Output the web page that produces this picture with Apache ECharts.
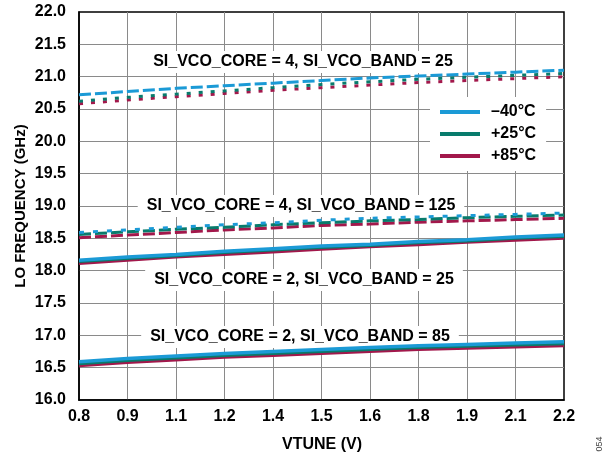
<!DOCTYPE html>
<html>
<head>
<meta charset="utf-8">
<script src="https://cdn.jsdelivr.net/npm/echarts@6/dist/echarts.min.js"></script>
<style>
html,body{margin:0;padding:0;background:#fff;}
#chart{width:614px;height:458px;}
</style>
</head>
<body>
<div id="chart"></div>
<script>
// ---- data ----
const vtune = [0.8, 0.94, 1.08, 1.22, 1.36, 1.5, 1.64, 1.78, 1.92, 2.06, 2.2];
const xTickLabels = ['0.8','0.9','1.1','1.2','1.4','1.5','1.6','1.8','1.9','2.1','2.2'];
const yTickLabels = ['16.0','16.5','17.0','17.5','18.0','18.5','19.0','19.5','20.0','20.5','21.0','21.5','22.0'];
const temps = ['–40°C', '+25°C', '+85°C'];

// SI_VCO_CORE = 4, SI_VCO_BAND = 25
const c4b25_m40 = [20.72, 20.77, 20.82, 20.86, 20.90, 20.94, 20.98, 21.01, 21.04, 21.07, 21.10];
const c4b25_p25 = [20.62, 20.68, 20.73, 20.78, 20.83, 20.88, 20.92, 20.96, 20.99, 21.02, 21.05];
const c4b25_p85 = [20.58, 20.64, 20.69, 20.74, 20.79, 20.83, 20.87, 20.91, 20.94, 20.97, 21.00];
// SI_VCO_CORE = 4, SI_VCO_BAND = 125
const c4b125_m40 = [18.59, 18.63, 18.67, 18.71, 18.74, 18.78, 18.81, 18.83, 18.85, 18.87, 18.89];
const c4b125_p25 = [18.56, 18.60, 18.64, 18.67, 18.71, 18.74, 18.77, 18.79, 18.82, 18.84, 18.86];
const c4b125_p85 = [18.51, 18.55, 18.59, 18.63, 18.66, 18.70, 18.72, 18.75, 18.77, 18.79, 18.81];
// SI_VCO_CORE = 2, SI_VCO_BAND = 25
const c2b25_m40 = [18.16, 18.21, 18.25, 18.30, 18.34, 18.38, 18.41, 18.45, 18.48, 18.52, 18.55];
const c2b25_p25 = [18.14, 18.19, 18.23, 18.28, 18.32, 18.36, 18.39, 18.43, 18.46, 18.50, 18.53];
const c2b25_p85 = [18.11, 18.16, 18.21, 18.25, 18.29, 18.33, 18.37, 18.40, 18.44, 18.47, 18.50];
// SI_VCO_CORE = 2, SI_VCO_BAND = 85
const c2b85_m40 = [16.59, 16.64, 16.68, 16.72, 16.75, 16.78, 16.81, 16.84, 16.86, 16.88, 16.90];
const c2b85_p25 = [16.56, 16.61, 16.65, 16.69, 16.72, 16.75, 16.78, 16.81, 16.83, 16.85, 16.87];
const c2b85_p85 = [16.53, 16.58, 16.62, 16.66, 16.69, 16.72, 16.75, 16.78, 16.80, 16.82, 16.84];

const annotations = [
  'SI_VCO_CORE = 4, SI_VCO_BAND = 25',
  'SI_VCO_CORE = 4, SI_VCO_BAND = 125',
  'SI_VCO_CORE = 2, SI_VCO_BAND = 25',
  'SI_VCO_CORE = 2, SI_VCO_BAND = 85'
];

// ---- styling ----
const colors = { '–40°C': '#1b9ad6', '+25°C': '#087b6c', '+85°C': '#a2184b' };
const FONT = '"Liberation Sans", Arial, sans-serif';

function mk(name, vals, dash, width) {
  return {
    type: 'line',
    name: name,
    data: vtune.map((x, i) => [x, vals[i]]),
    symbol: 'none',
    showSymbol: false,
    silent: true,
    z: 3,
    lineStyle: { color: colors[name], width: width || 3, type: dash || 'solid', cap: 'butt' },
    itemStyle: { color: colors[name] }
  };
}

const series = [
  mk('+85°C', c2b25_p85, 'solid', 3),
  mk('+25°C', c2b25_p25, 'solid', 3),
  mk('–40°C', c2b25_m40, 'solid', 3.5),
  mk('+85°C', c2b85_p85, 'solid', 3),
  mk('+25°C', c2b85_p25, 'solid', 3),
  mk('–40°C', c2b85_m40, 'solid', 3.5),
  mk('+85°C', c4b125_p85, [12, 4], 3),
  mk('+25°C', c4b125_p25, [12, 4], 3),
  mk('–40°C', c4b125_m40, [5, 9], 3),
  mk('+85°C', c4b25_p85, [4, 8], 3),
  mk('+25°C', c4b25_p25, [4, 8], 3),
  mk('–40°C', c4b25_m40, [12, 4], 3)
];

const annoPos = [[303, 62], [301, 206], [304, 280], [300, 337]];
const graphics = annotations.map((t, i) => ({
  type: 'text',
  x: annoPos[i][0], y: annoPos[i][1],
  z: 1,
  silent: true,
  style: {
    text: t, fill: '#000', font: 'bold 16px ' + FONT,
    textAlign: 'center', textVerticalAlign: 'middle',
    backgroundColor: '#fff', padding: [3, 9]
  }
}));
graphics.push({
  type: 'text', x: 21, y: 206, rotation: Math.PI / 2, silent: true,
  style: { text: 'LO FREQUENCY (GHz)', fill: '#000', font: 'bold 15px ' + FONT,
           textAlign: 'center', textVerticalAlign: 'middle' }
});
graphics.push({
  type: 'text', x: 322, y: 445, silent: true,
  style: { text: 'VTUNE (V)', fill: '#000', font: 'bold 16px ' + FONT,
           textAlign: 'center', textVerticalAlign: 'middle' }
});
graphics.push({
  type: 'text', x: 600, y: 444, rotation: Math.PI / 2, silent: true,
  style: { text: '054', fill: '#444', font: '9px ' + FONT,
           textAlign: 'center', textVerticalAlign: 'middle' }
});

const chart = echarts.init(document.getElementById('chart'), null, { renderer: 'canvas' });
chart.setOption({
  animation: false,
  backgroundColor: '#fff',
  grid: { left: 79, right: 50, top: 12, bottom: 58, show: true, borderColor: '#000', borderWidth: 1.5, backgroundColor: 'transparent' },
  xAxis: {
    type: 'value', min: 0.8, max: 2.2, interval: 0.14,
    axisLine: { show: true, onZero: false, lineStyle: { color: '#000', width: 1.5 } },
    axisTick: { show: false },
    axisLabel: { color: '#000', fontFamily: FONT, fontWeight: 'bold', fontSize: 16, margin: 9,
                 formatter: (v, i) => xTickLabels[i] },
    splitLine: { show: true, showMinLine: false, showMaxLine: false, lineStyle: { color: '#8a8a8a', width: 1 } }
  },
  yAxis: {
    type: 'value', min: 16, max: 22, interval: 0.5,
    axisLine: { show: true, onZero: false, lineStyle: { color: '#000', width: 1.5 } },
    axisTick: { show: false },
    axisLabel: { color: '#000', fontFamily: FONT, fontWeight: 'bold', fontSize: 16, margin: 13,
                 formatter: (v, i) => yTickLabels[i] },
    splitLine: { show: true, showMinLine: false, showMaxLine: false, lineStyle: { color: '#8a8a8a', width: 1 } }
  },
  legend: {
    data: temps.map(n => ({ name: n, icon: 'rect' })),
    orient: 'vertical',
    left: 430, top: 97,
    backgroundColor: '#fff',
    padding: [6, 10, 6, 10],
    itemWidth: 40, itemHeight: 4, itemGap: 4,
    selectedMode: false,
    textStyle: { color: '#000', fontFamily: FONT, fontWeight: 'bold', fontSize: 16, lineHeight: 18, padding: [0, 0, 0, 6] }
  },
  graphic: graphics,
  series: series
});
</script>
</body>
</html>
